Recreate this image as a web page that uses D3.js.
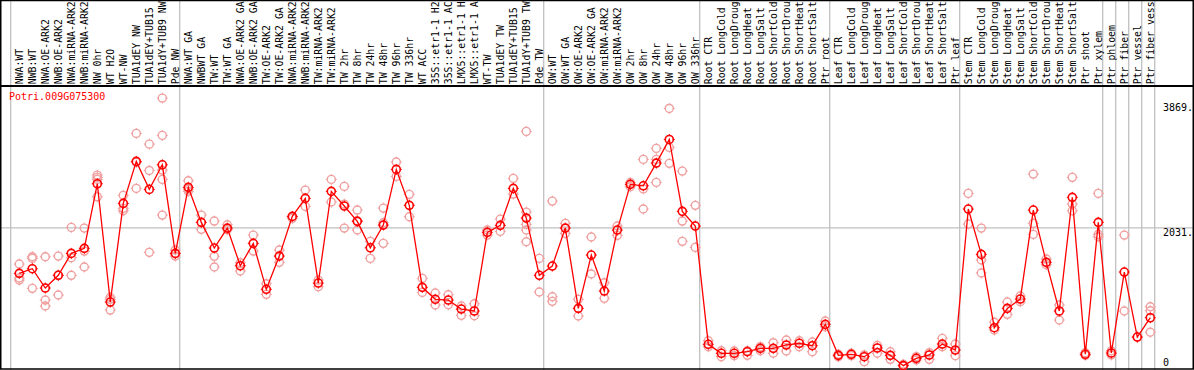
<!DOCTYPE html>
<html>
<head>
<meta charset="utf-8">
<script src="https://cdn.jsdelivr.net/npm/d3@7"></script>
<style>
  body { margin: 0; background: #fff; }
  svg { display: block; }
  text { font-family: "DejaVu Sans Mono", monospace; font-size: 10px; }
</style>
</head>
<body>
<div id="chart"></div>
<script>
const geneName = "Potri.009G075300";

// sample names as printed (the chart cuts them to 14 characters)
const samples = [
  "NWA:WT", "NWB:WT", "NWA:OE-ARK2", "NWB:OE-ARK2", "NWA:miRNA-ARK2", "NWB:miRNA-ARK2",
  "NW 0hr", "WT H2O", "WT-NW", "TUA1dEY NW", "TUA1dEY+TUB15 NW", "TUA1dY+TUB9 NW", "Pde NW",
  "NWA:WT GA", "NWBWT GA", "TW:WT", "TW:WT GA", "NWA:OE-ARK2 GA", "NWB:OE-ARK2 GA",
  "TW:OE-ARK2", "TW:OE-ARK2 GA", "NWA:miRNA-ARK2 GA", "NWB:miRNA-ARK2 GA", "TW:miRNA-ARK2",
  "TW:miRNA-ARK2 GA", "TW 2hr", "TW 8hr", "TW 24hr", "TW 48hr", "TW 96hr", "TW 336hr",
  "WT ACC", "35S::etr1-1 H2O", "35S::etr1-1 ACC", "LMX5::etr1-1 H2O", "LMX5::etr1-1 ACC",
  "WT-TW", "TUA1dEY TW", "TUA1dEY+TUB15 TW", "TUA1dY+TUB9 TW", "Pde TW",
  "OW:WT", "OW:WT GA", "OW:OE-ARK2", "OW:OE-ARK2 GA", "OW:miRNA-ARK2", "OW:miRNA-ARK2 GA",
  "OW 2hr", "OW 8hr", "OW 24hr", "OW 48hr", "OW 96hr", "OW 336hr",
  "Root CTR", "Root LongCold", "Root LongDrought", "Root LongHeat", "Root LongSalt",
  "Root ShortCold", "Root ShortDrought", "Root ShortHeat", "Root ShortSalt", "Ptr root",
  "Leaf CTR", "Leaf LongCold", "Leaf LongDrought", "Leaf LongHeat", "Leaf LongSalt",
  "Leaf ShortCold", "Leaf ShortDrought", "Leaf ShortHeat", "Leaf ShortSalt", "Ptr leaf",
  "Stem CTR", "Stem LongCold", "Stem LongDrought", "Stem LongHeat", "Stem LongSalt",
  "Stem ShortCold", "Stem ShortDrought", "Stem ShortHeat", "Stem ShortSalt", "Ptr shoot",
  "Ptr xylem", "Ptr phloem", "Ptr fiber", "Ptr vessel", "Ptr fiber vessel"
];

// first sample index of each block (last value = end)
const groupStarts = [0, 13, 41, 53, 63, 73, 84, 85, 86, 87, 88];

const means = [
  1363, 1431, 1147, 1334, 1657, 1731, 2681, 941, 2392, 3010, 2598, 2960, 1657,
  2628, 2113, 1735, 2029, 1475, 1804, 1128, 1617, 2201, 2466, 1220, 2569, 2353,
  2128, 1739, 2073, 2892, 2363, 1157, 981, 970, 838, 809, 1966, 2069, 2613, 2176,
  1334, 1470, 2029, 848, 1632, 1103, 2000, 2672, 2651, 2985, 3333, 2275, 2059,
  319, 187, 187, 210, 260, 260, 309, 334, 299, 613,
  157, 172, 137, 265, 157, 5, 113, 162, 323, 235,
  2309, 1642, 563, 848, 985, 2294, 1525, 809, 2481, 172,
  2113, 191, 1382, 426, 710
];

const replicates = [
  [1500, 1294, 1264], [1607, 1583, 1142], [1607, 970, 882], [1617, 1044, 1334],
  [2039, 1592, 1334], [2029, 1691, 1456], [2808, 2775, 2745, 2489], [1010, 981, 823],
  [2510, 2319, 2284], [3422, 2995, 2613], [3264, 2877, 1672], [3941, 3392, 2882, 2745, 2220],
  [1706, 1617, 1650], [2725, 2569, 2600], [2220, 2010], [2132, 1613, 1456],
  [2078, 2005], [1519, 1397], [1926, 1691], [1210, 1054], [1706, 1525], [2196, 2172],
  [2588, 2348], [1264, 1166], [2745, 2412], [2642, 2382, 2029], [2294, 2137, 2000],
  [1834, 1583], [2323, 2107, 1804], [3000, 2789], [2525, 2196], [1289, 1083],
  [1073, 897], [1048, 901], [882, 745], [916, 740], [2000, 1926], [2161, 1980],
  [2760, 2529], [3451, 2264, 2083, 2000, 1828], [1583, 1088], [2426, 1019, 951],
  [2098, 1951], [981, 735], [1897, 1353], [1225, 995], [2059, 1922], [2637, 2700],
  [3039, 2309, 2605], [3201, 3039, 2701], [3789, 3216, 2981], [2867, 2132, 1834],
  [2363, 1745], [372, 284], [225, 137], [221, 152], [225, 157], [284, 225],
  [343, 187], [382, 221], [372, 284], [353, 210], [662, 578], [172, 137],
  [187, 152], [162, 64], [304, 187], [210, 98], [25, 0], [137, 88], [196, 98],
  [407, 284], [323, 152], [2539, 2088], [2029, 1559, 1368], [643, 529], [941, 760],
  [1029, 946], [2823, 2098, 1936], [1573, 1490], [897, 676], [2775, 2382, 2284],
  [196, 157], [2539, 1936, 1901], [225, 162], [1926, 809], [426], [872, 813, 496]
];

const axisTicks = [3869, 2031, 0];
const axisLabels = ["3869.", "2031.", "0"];

const W = 1194, H = 370;
const HEADER = 86;
const COL = 13;
const MAXCHARS = 14;

const x = d3.scaleBand()
  .domain(d3.range(samples.length))
  .range([11, 11 + COL * samples.length]);
const cx = i => x(i) + 8.3;

const y = d3.scaleLinear()
  .domain([0, 3869])
  .range([366, 103]);

const svg = d3.select("#chart")
  .append("svg")
  .attr("width", W)
  .attr("height", H)
  .attr("viewBox", "0 0 " + W + " " + H);

// grid
svg.selectAll("line.vgrid")
  .data(groupStarts)
  .enter().append("line")
  .attr("class", "vgrid")
  .attr("x1", d => d < samples.length ? x(d) - 0.3 : x(d - 1) + COL - 0.3)
  .attr("x2", d => d < samples.length ? x(d) - 0.3 : x(d - 1) + COL - 0.3)
  .attr("y1", 0)
  .attr("y2", H)
  .attr("stroke", "#c0c0c0")
  .attr("stroke-width", 1.3);

svg.append("line")
  .attr("x1", 0).attr("x2", W)
  .attr("y1", y(2031)).attr("y2", y(2031))
  .attr("stroke", "#c0c0c0")
  .attr("stroke-width", 1.3);

// header labels
svg.append("g")
  .selectAll("text")
  .data(samples)
  .enter().append("text")
  .attr("transform", (d, i) => "translate(" + (cx(i) + 3.6) + "," + 84.3 + ") rotate(-90)")
  .attr("fill", "#000")
  .style("font-size", "9.85px")
  .text(d => d.slice(0, MAXCHARS));

// frame
svg.append("line")
  .attr("x1", 0).attr("x2", W)
  .attr("y1", HEADER).attr("y2", HEADER)
  .attr("stroke", "#000").attr("stroke-width", 2);
svg.append("rect")
  .attr("x", 0.75).attr("y", 0.5)
  .attr("width", W - 1.5).attr("height", H - 1.5)
  .attr("fill", "none")
  .attr("stroke", "#000").attr("stroke-width", 1.5);

// right axis
svg.append("g")
  .selectAll("text")
  .data(axisTicks)
  .enter().append("text")
  .attr("x", 1163)
  .attr("y", d => Math.min(y(d) + 8, 366))
  .attr("fill", "#000")
  .text((d, i) => axisLabels[i]);

svg.append("text")
  .attr("x", 9)
  .attr("y", 100)
  .attr("fill", "#ff0000")
  .text(geneName);

function ring(g, color, width) {
  g.append("circle")
    .attr("r", 4)
    .attr("fill", "none")
    .attr("stroke", color)
    .attr("stroke-width", width);
  g.append("path")
    .attr("d", "M0,-5.5V-3.5M0,3.5V5.5M-5.5,0H-3.5M3.5,0H5.5")
    .attr("stroke", color)
    .attr("stroke-width", 1);
}

const reps = [];
replicates.forEach((vals, i) => vals.forEach(v => reps.push({ i, v })));

svg.append("g")
  .selectAll("g")
  .data(reps)
  .enter().append("g")
  .attr("transform", d => "translate(" + cx(d.i) + "," + y(d.v) + ")")
  .each(function () { ring(d3.select(this), "#f0a0a0", 1.4); });

const line = d3.line()
  .x((d, i) => cx(i))
  .y(d => y(d));

svg.append("path")
  .datum(means)
  .attr("d", line)
  .attr("fill", "none")
  .attr("stroke", "#ff0000")
  .attr("stroke-width", 1.3);

svg.append("g")
  .selectAll("g")
  .data(means)
  .enter().append("g")
  .attr("transform", (d, i) => "translate(" + cx(i) + "," + y(d) + ")")
  .each(function () { ring(d3.select(this), "#ff0000", 1.6); });
</script>
</body>
</html>
